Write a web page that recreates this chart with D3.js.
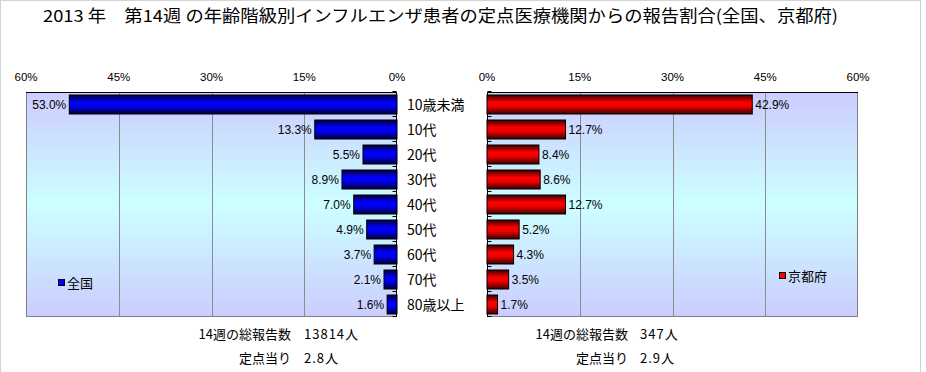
<!DOCTYPE html>
<html><head><meta charset="utf-8">
<script src="https://cdn.jsdelivr.net/npm/d3@7"></script>
<style>
html,body{margin:0;padding:0;background:#fff;}
svg text{font-family:"Noto Sans CJK JP","Liberation Sans",sans-serif;fill:#000;}
</style></head><body>
<svg id="c" width="926" height="372"></svg>
<script>
const title = "2013 年　第14週 の年齢階級別インフルエンザ患者の定点医療機関からの報告割合(全国、京都府)";
const categories = ["10歳未満","10代","20代","30代","40代","50代","60代","70代","80歳以上"];
const nationalValues = [53.0,13.3,5.5,8.9,7.0,4.9,3.7,2.1,1.6];
const kyotoValues = [42.9,12.7,8.4,8.6,12.7,5.2,4.3,3.5,1.7];
const tickValues = [0,15,30,45,60];
const seriesNames = ["全国","京都府"];
const totalLabel = "14週の総報告数";
const perLabel = "定点当り";
const nationalTotals = ["13814人","2.8人"];
const kyotoTotals = ["347人","2.9人"];

const svg = d3.select("#c");
const defs = svg.append("defs");

svg.append("rect").attr("x",0.5).attr("y",0.5).attr("width",920).attr("height",380)
  .attr("fill","none").attr("stroke","#d4d4d4");

function vgrad(id, stops){
  const g = defs.append("linearGradient").attr("id",id).attr("x1",0).attr("y1",0).attr("x2",0).attr("y2",1);
  stops.forEach(s=>g.append("stop").attr("offset",s[0]).attr("stop-color",s[1]));
}
vgrad("bg",[[0,"#ccccff"],[0.5,"#ccffff"],[1,"#ccccff"]]);
vgrad("blue",[[0,"#00003a"],[0.4,"#0000ff"],[0.6,"#0000ee"],[1,"#00003a"]]);
vgrad("red",[[0,"#3a0000"],[0.4,"#ff0000"],[0.6,"#ee0000"],[1,"#3a0000"]]);

svg.append("text").attr("x",43).attr("y",22).attr("font-size",16.5)
  .attr("textLength",795).attr("lengthAdjust","spacingAndGlyphs").text(title);

const plotTop = 92, plotBottom = 317;
const y = d3.scaleBand().domain(categories).range([plotTop,plotBottom]).paddingInner(0.24).paddingOuter(0.12);
const yb = d3.scaleBand().domain(categories).range([plotTop,plotBottom]);

function panel(values, x0, x1, side, grad, fillSq, legendPos, name){
  const x = d3.scaleLinear().domain([0,60]).range([x0,x1]);
  const L = Math.min(x0,x1), R = Math.max(x0,x1);
  const g = svg.append("g");
  g.append("rect").attr("x",L).attr("y",plotTop).attr("width",R-L).attr("height",plotBottom-plotTop).attr("fill","url(#bg)");
  g.selectAll("line.grid").data(tickValues.filter(v=>v>0&&v<60)).join("line")
    .attr("x1",d=>Math.round(x(d))+0.5).attr("x2",d=>Math.round(x(d))+0.5)
    .attr("y1",plotTop).attr("y2",plotBottom).attr("stroke","#8c8c8c").attr("stroke-width",1);
  g.append("rect").attr("x",L+0.5).attr("y",plotTop+0.5).attr("width",R-L-1).attr("height",plotBottom-plotTop-1)
    .attr("fill","none").attr("stroke","#808080");
  g.append("line").attr("x1",L).attr("x2",R).attr("y1",plotTop+0.5).attr("y2",plotTop+0.5).attr("stroke","#000");
  const ax = Math.round(x(0)) + (side==="left" ? -0.5 : 0.5);
  g.append("line").attr("x1",ax).attr("x2",ax).attr("y1",plotTop).attr("y2",plotBottom).attr("stroke","#000");
  const tickPos = categories.map(c=>yb(c)).concat([plotBottom]);
  g.selectAll("line.ct").data(tickPos).join("line")
    .attr("x1",ax).attr("x2",side==="left"? ax-4 : ax+4)
    .attr("y1",d=>Math.round(d)-0.5).attr("y2",d=>Math.round(d)-0.5).attr("stroke","#000");
  g.selectAll("text.tk").data(tickValues).join("text")
    .attr("x",d=>x(d)).attr("y",81).attr("text-anchor","middle")
    .attr("font-size",11.5).style("font-family","'Liberation Sans',sans-serif")
    .text(d=>d+"%");
  g.selectAll("rect.bar").data(values).join("rect")
    .attr("x",d=>Math.min(x(0),x(d))).attr("width",d=>Math.abs(x(d)-x(0)))
    .attr("y",(d,i)=>y(categories[i])).attr("height",y.bandwidth())
    .attr("fill",`url(#${grad})`).attr("stroke","#000").attr("stroke-width",1);
  g.selectAll("text.val").data(values).join("text")
    .attr("x",d=> side==="left" ? x(d)-3 : x(d)+3)
    .attr("y",(d,i)=>y(categories[i])+y.bandwidth()/2+4.5)
    .attr("text-anchor", side==="left" ? "end" : "start")
    .attr("font-size",12).style("font-family","'Liberation Sans',sans-serif")
    .text(d=>d.toFixed(1)+"%");
  g.append("rect").attr("x",legendPos[0]+0.5).attr("y",legendPos[1]-3.5).attr("width",6).attr("height",6)
    .attr("fill",fillSq).attr("stroke","#000");
  g.append("text").attr("x",legendPos[0]+9).attr("y",legendPos[1]+5).attr("font-size",13).text(name);
}
panel(nationalValues, 397, 26, "left", "blue", "#0000ff", [58,283], seriesNames[0]);
panel(kyotoValues, 487, 858, "right", "red", "#ff0000", [779,276], seriesNames[1]);

svg.selectAll("text.cat").data(categories).join("text")
  .attr("x",407).attr("y",d=>yb(d)+yb.bandwidth()/2+5).attr("font-size",14).text(d=>d);

function totals(labEnd, valStart, vals){
  [totalLabel, perLabel].forEach((t,i)=>{
    svg.append("text").attr("x",labEnd).attr("y",339+i*24).attr("text-anchor","end")
      .attr("font-size",13).text(t);
    svg.append("text").attr("x",valStart).attr("y",339+i*24)
      .attr("font-size",13).attr("letter-spacing",1).text(vals[i]);
  });
}
totals(291, 304, nationalTotals);
totals(628, 640, kyotoTotals);
</script></body></html>
